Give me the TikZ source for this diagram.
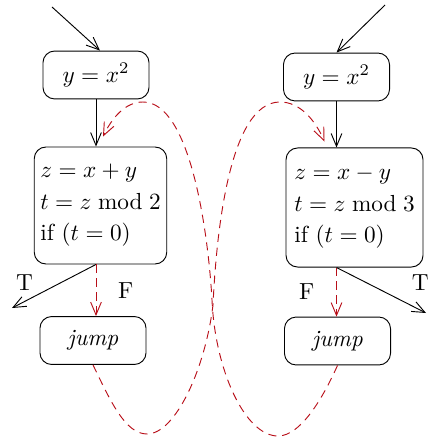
\documentclass[tikz,border=0pt]{standalone}
\usepackage{amsmath}
\usepackage{tikz}
\usetikzlibrary{arrows.meta,calc}
\definecolor{jumpRed}{rgb}{0.72,0.06,0.1}

\begin{document}
\begin{tikzpicture}[>={Straight Barb[length=5.5pt,width=4.6pt]}, x=0.43pt, y=-0.43pt]
\tikzstyle{blk}=[draw=black, rounded corners=5pt, inner sep=2pt, minimum width=45.6pt, minimum height=20.6pt]
\tikzstyle{edge}=[->]
\tikzstyle{jmp}=[->, jumpRed, dash pattern=on 3.5pt off 2.5pt]
\useasboundingbox (0,0) rectangle (427,438);
% left block
\node[blk] (l1) at (96,75) {$y=x^2$};
\node[blk, align=left, inner xsep=2.6pt, minimum width=56.3pt, minimum height=50.3pt] (l2) at (100.5,205.5)
  {$z=x+y$\\[1.5pt] $t=z \bmod 2$\\[1.5pt] if $(t=0)$};
\node[blk] (lj) at (93,340.5) {\emph{jump}};
% right block
\node[blk] (r1) at (336.5,77) {$y=x^2$};
\node[blk, align=left, inner xsep=3pt, minimum width=58.9pt, minimum height=51.2pt] (r2) at (354.5,207.5)
  {$z=x-y$\\[1.5pt] $t=z \bmod 3$\\[1.5pt] if $(t=0)$};
\node[blk] (rj) at (337.5,341) {\emph{jump}};
% free ends
\coordinate (lin) at (52,7);
\coordinate (rin) at (385,5);
\coordinate (lT) at (12,308);
\coordinate (rT) at (426,313);
% control flow
\draw[edge] (lin) -- ($(l1.north)+(4,0)$);
\draw[edge] (l1.south) -- (l1.south |- l2.north);
\draw[edge] (l1.south |- l2.south) -- (lT) node[pos=0.85, above=1pt] {T};
\draw[jmp] (l1.south |- l2.south) -- (lj.north -| l1.south) node[midway, right=6pt] {\textcolor{black}{F}};
\draw[edge] (rin) -- (r1.north);
\draw[edge] (r1.south) -- (r1.south |- r2.north);
\draw[edge] (r1.south |- r2.south) -- (rT) node[pos=1, above=6pt, xshift=-2.5pt] {T};
\draw[jmp] (r1.south |- r2.south) -- (rj.north -| r1.south) node[midway, left=6pt] {\textcolor{black}{F}};
% cross jumps
\draw[jmp] (lj.south) .. controls (110,400) and (125,434) .. (147,434)
  .. controls (175,434) and (205,370) .. (213,305)
  .. controls (216,240) and (228,102) .. (280,102)
  .. controls (300,102) and (315,120) .. ($(r1.south |- r2.north)+(-12,-6)$);
\draw[jmp] (rj.south) .. controls (322,400) and (300,436) .. (278,436)
  .. controls (245,436) and (215,370) .. (212,300)
  .. controls (208,230) and (190,102) .. (143,102)
  .. controls (125,102) and (112,118) .. ($(l1.south |- l2.north)+(7,-10)$);
\end{tikzpicture}
\end{document}
